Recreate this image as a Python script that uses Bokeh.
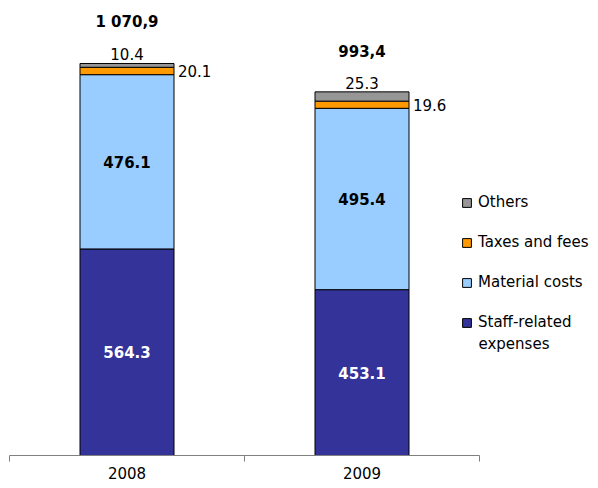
from bokeh.plotting import figure
from bokeh.models import ColumnDataSource, Range1d, FixedTicker, Legend, LegendItem, Label
from bokeh.core.properties import value
from bokeh.embed import file_html
from bokeh.resources import INLINE

years = ["2008", "2009"]
staff = [564.3, 453.1]
material = [476.1, 495.4]
taxes = [20.1, 19.6]
others = [10.4, 25.3]
total_labels = ["1 070,9", "993,4"]

series = ["staff", "material", "taxes", "others"]
series_names = ["Staff-related", "Material costs", "Taxes and fees", "Others"]
colors = ["#333399", "#99CCFF", "#FF9900", "#969696"]

FONT = "DejaVu Sans"
BAR_W = 0.40

xs = [i + 0.5 for i in range(len(years))]
s1 = [a for a in staff]
s2 = [a + b for a, b in zip(staff, material)]
s3 = [a + b for a, b in zip(s2, taxes)]
tot = [a + b for a, b in zip(s3, others)]

src = ColumnDataSource(dict(
    x=xs, staff=staff, material=material, taxes=taxes, others=others,
    staff_y=[v / 2 for v in staff],
    mat_y=[a + b / 2 for a, b in zip(s1, material)],
    tax_y=[a + b / 2 for a, b in zip(s2, taxes)],
    tot=tot,
    x_right=[x + BAR_W / 2 for x in xs],
    staff_lab=[f"{v:.1f}" for v in staff],
    mat_lab=[f"{v:.1f}" for v in material],
    tax_lab=[f"{v:.1f}" for v in taxes],
    oth_lab=[f"{v:.1f}" for v in others],
    tot_lab=total_labels,
))

n = len(years)
p = figure(width=598, height=488, output_backend="svg", toolbar_location=None,
           x_range=Range1d(0, n * 589 / 470), y_range=Range1d(0, 1243),
           min_border_left=9, min_border_right=0, min_border_top=0, min_border_bottom=33)
p.outline_line_color = None
p.xgrid.visible = False
p.ygrid.visible = False
p.yaxis.visible = False

rs = p.vbar_stack(series, x="x", width=BAR_W, source=src, fill_color=colors,
                  line_color="black", line_width=1)

ax = p.xaxis[0]
ax.bounds = (0, n)
ax.ticker = FixedTicker(ticks=xs, minor_ticks=list(range(n + 1)))
ax.major_label_overrides = {x: y for x, y in zip(xs, years)}
ax.major_tick_out = 0
ax.major_tick_in = 0
ax.minor_tick_out = 6
ax.minor_tick_in = 0
ax.minor_tick_line_color = "#808080"
ax.axis_line_color = "#808080"
ax.major_label_standoff = 5
ax.major_label_text_font = FONT
ax.major_label_text_font_size = "15px"
ax.major_label_text_color = "black"

common = dict(source=src, text_font=value(FONT), text_baseline="middle")
p.text(x="x", y="staff_y", text="staff_lab", text_color="white", text_font_style="bold",
       text_align="center", text_font_size="15px", **common)
p.text(x="x", y="mat_y", text="mat_lab", text_color="black", text_font_style="bold",
       text_align="center", text_font_size="15px", **common)
p.text(x="x_right", y="tax_y", text="tax_lab", text_color="black", x_offset=4,
       text_align="left", text_font_size="15px", **common)
p.text(x="x", y="tot", text="oth_lab", text_color="black", y_offset=-9,
       text_align="center", text_font_size="15px", **common)
p.text(x="x", y="tot", text="tot_lab", text_color="black", y_offset=-41, text_font_style="bold",
       text_align="center", text_font_size="15px", **common)

items = [LegendItem(label=series_names[i], renderers=[rs[i]]) for i in reversed(range(len(series)))]
legend = Legend(items=items, location=(452, 124), orientation="vertical",
                glyph_width=11, glyph_height=11, label_standoff=6, spacing=22,
                padding=0, margin=0, border_line_color=None, background_fill_alpha=0,
                label_text_font=FONT, label_text_font_size="15px", label_text_color="black",
                label_height=18)
p.add_layout(legend, "center")
p.add_layout(Label(x=469, y=112, x_units="screen", y_units="screen", text="expenses",
                   text_font=FONT, text_font_size="15px", text_baseline="middle",
                   text_color="black"))

open("out.html", "w").write(file_html(p, INLINE))
